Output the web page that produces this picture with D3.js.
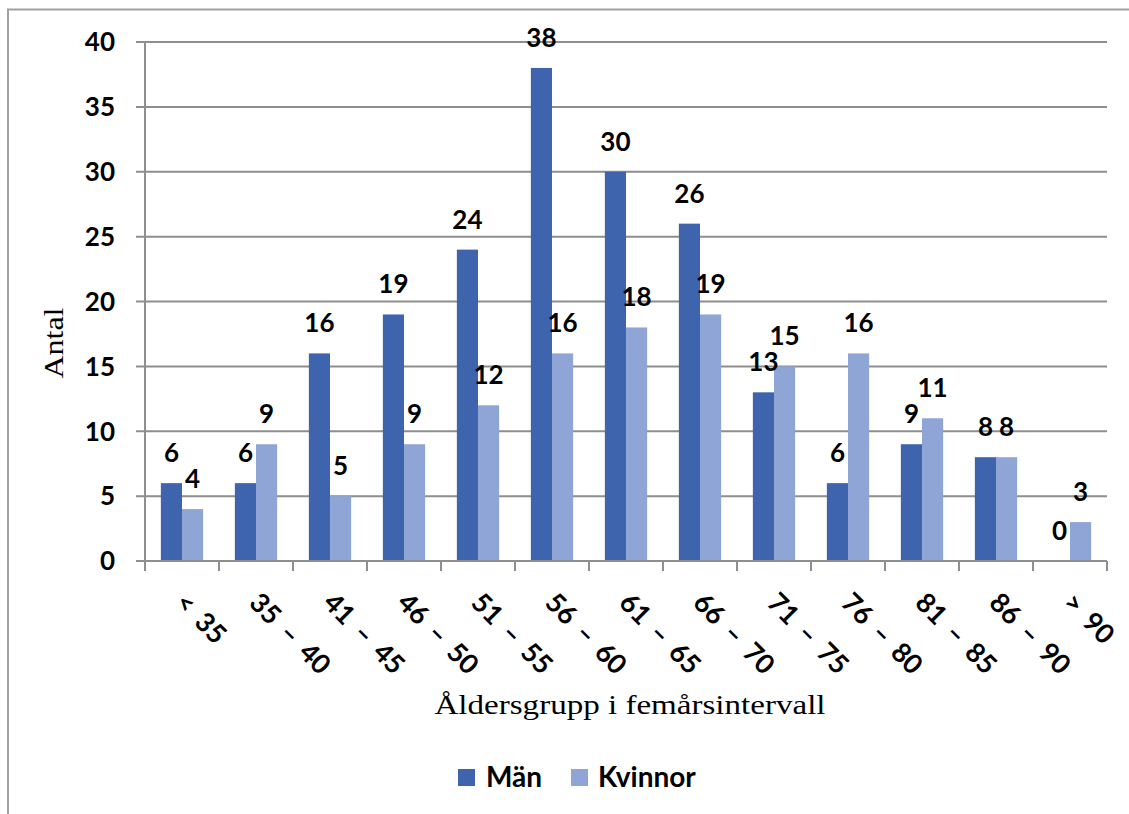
<!DOCTYPE html>
<html>
<head>
<meta charset="utf-8">
<script src="https://cdn.jsdelivr.net/npm/d3@7"></script>
<style>
  html, body { margin: 0; padding: 0; background: #fff; }
  svg { display: block; }
</style>
</head>
<body>
<svg id="chart" width="1129" height="814"></svg>
<script>
// Age groups in five-year intervals
const categories = ["< 35", "35 – 40", "41 – 45", "46 – 50", "51 – 55", "56 – 60", "61 – 65",
                    "66 – 70", "71 – 75", "76 – 80", "81 – 85", "86 – 90", "> 90"];
const seriesNames = ["Män", "Kvinnor"];
const manValues = [6, 6, 16, 19, 24, 38, 30, 26, 13, 6, 9, 8, 0];
const kvinnorValues = [4, 9, 5, 9, 12, 16, 18, 19, 15, 16, 11, 8, 3];
const yTicks = [0, 5, 10, 15, 20, 25, 30, 35, 40];

const colors = { "Män": "#3d64ad", "Kvinnor": "#8fa5d6" };
const labelFont = "Lato, 'Open Sans', sans-serif";
const titleFont = "'Liberation Serif', 'DejaVu Serif', serif";

const svg = d3.select("#chart");

// Outer chart frame (left and top edges visible)
svg.append("path")
  .attr("d", "M8,814 V9.5 H1129")
  .attr("fill", "none")
  .attr("stroke", "#a0a0a0")
  .attr("stroke-width", 2);

const plot = { left: 145, right: 1107, top: 42, bottom: 561 };

const x0 = d3.scaleBand().domain(categories).range([plot.left, plot.right]).padding(0);
const x1 = d3.scaleBand().domain(seriesNames).range([0, x0.bandwidth()])
  .paddingInner(0).paddingOuter(0.75);
const y = d3.scaleLinear().domain([0, 40]).range([plot.bottom, plot.top]);

// Horizontal gridlines with left tick stubs
svg.append("g")
  .selectAll("line")
  .data(yTicks)
  .join("line")
  .attr("x1", plot.left - 9)
  .attr("x2", plot.right)
  .attr("y1", d => y(d))
  .attr("y2", d => y(d))
  .attr("stroke", "#8e8e8e")
  .attr("stroke-width", 2);

// Y axis line
svg.append("line")
  .attr("x1", plot.left).attr("x2", plot.left)
  .attr("y1", plot.top).attr("y2", plot.bottom)
  .attr("stroke", "#8e8e8e").attr("stroke-width", 2);

// Y tick labels
svg.append("g")
  .selectAll("text")
  .data(yTicks)
  .join("text")
  .attr("x", 115)
  .attr("y", d => y(d))
  .attr("dy", "0.36em")
  .attr("text-anchor", "end")
  .attr("font-family", labelFont)
  .attr("font-weight", "bold")
  .attr("font-size", 26)
  .attr("fill", "#000")
  .text(d => d);

// Bars
const rows = categories.map((c, i) => ({ cat: c, "Män": manValues[i], "Kvinnor": kvinnorValues[i] }));

const groups = svg.append("g")
  .selectAll("g")
  .data(rows)
  .join("g")
  .attr("transform", d => `translate(${x0(d.cat)},0)`);

groups.selectAll("rect")
  .data(d => seriesNames.map(s => ({ s, v: d[s] })))
  .join("rect")
  .attr("x", d => x1(d.s))
  .attr("width", x1.bandwidth())
  .attr("y", d => y(d.v))
  .attr("height", d => y(0) - y(d.v))
  .attr("fill", d => colors[d.s]);

// Value labels above bars
groups.selectAll("text")
  .data(d => seriesNames.map(s => ({ s, v: d[s] })))
  .join("text")
  .attr("x", d => x1(d.s) + x1.bandwidth() / 2)
  .attr("y", d => y(d.v) - 21)
  .attr("text-anchor", "middle")
  .attr("font-family", labelFont)
  .attr("font-weight", "bold")
  .attr("font-size", 26)
  .attr("fill", "#000")
  .text(d => d.v);

// X axis line and category boundary ticks
svg.append("line")
  .attr("x1", plot.left - 9).attr("x2", plot.right)
  .attr("y1", plot.bottom).attr("y2", plot.bottom)
  .attr("stroke", "#8e8e8e").attr("stroke-width", 2);

const boundaries = categories.map(c => x0(c)).concat([plot.right]);
svg.append("g")
  .selectAll("line")
  .data(boundaries)
  .join("line")
  .attr("x1", d => d).attr("x2", d => d)
  .attr("y1", plot.bottom).attr("y2", plot.bottom + 10)
  .attr("stroke", "#8e8e8e").attr("stroke-width", 2);

// Rotated category labels
svg.append("g")
  .selectAll("text")
  .data(categories)
  .join("text")
  .attr("transform", d => `translate(${x0(d) + x0.bandwidth() / 2 + 5},591) rotate(45)`)
  .attr("dy", "0.7em")
  .attr("text-anchor", "start")
  .attr("font-family", labelFont)
  .attr("font-weight", "bold")
  .attr("font-size", 27)
  .attr("word-spacing", 5)
  .attr("fill", "#000")
  .text(d => d);

// Axis titles
svg.append("text")
  .attr("transform", "translate(63,343) rotate(-90)")
  .attr("text-anchor", "middle")
  .attr("font-family", titleFont)
  .attr("font-size", 28)
  .attr("textLength", 71)
  .attr("lengthAdjust", "spacingAndGlyphs")
  .attr("fill", "#000")
  .text("Antal");

svg.append("text")
  .attr("x", 630)
  .attr("y", 714)
  .attr("text-anchor", "middle")
  .attr("font-family", titleFont)
  .attr("font-size", 28)
  .attr("textLength", 391)
  .attr("lengthAdjust", "spacingAndGlyphs")
  .attr("fill", "#000")
  .text("Åldersgrupp i femårsintervall");

// Legend
const legendItems = [
  { name: "Män", sx: 458, tx: 486 },
  { name: "Kvinnor", sx: 571, tx: 598 }
];
const legend = svg.append("g");
legend.selectAll("rect")
  .data(legendItems)
  .join("rect")
  .attr("x", d => d.sx)
  .attr("y", 769)
  .attr("width", 17)
  .attr("height", 17)
  .attr("fill", d => colors[d.name]);
legend.selectAll("text")
  .data(legendItems)
  .join("text")
  .attr("x", d => d.tx)
  .attr("y", 787)
  .attr("font-family", labelFont)
  .attr("font-weight", "bold")
  .attr("font-size", 28)
  .attr("fill", "#000")
  .text(d => d.name);
</script>
</body>
</html>
